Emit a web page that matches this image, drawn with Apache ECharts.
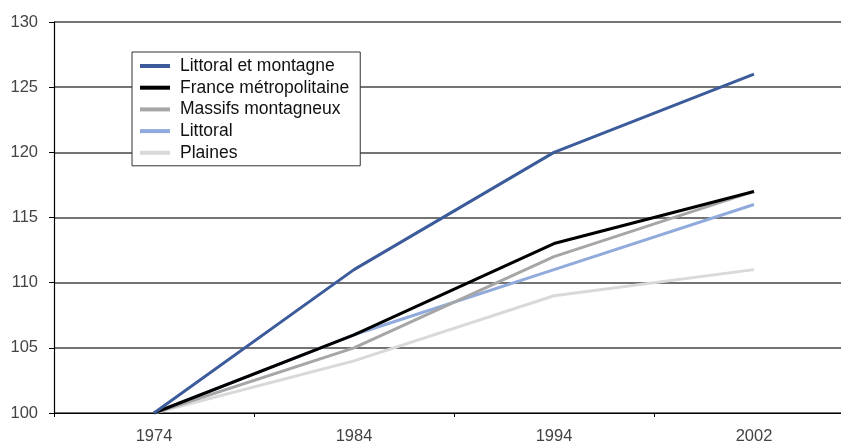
<!DOCTYPE html>
<html><head><meta charset="utf-8">
<script src="https://cdn.jsdelivr.net/npm/echarts@6/dist/echarts.min.js"></script>
<style>html,body{margin:0;padding:0;background:#fff}#c{width:841px;height:444px}</style>
</head><body><div id="c"></div>
<script>
const years = ['1974', '1984', '1994', '2002'];
const littoralMontagne = [100, 111, 120, 126];
const franceMetro = [100, 106, 113, 117];
const massifs = [100, 105, 112, 117];
const littoral = [100, 106, 111, 116];
const plaines = [100, 104, 109, 111];
const names = ['Littoral et montagne', 'France métropolitaine', 'Massifs montagneux', 'Littoral', 'Plaines'];
const colors = ['#3B5B9A', '#000000', '#A6A6A6', '#8FAADB', '#D9D9D9'];
const datas = [littoralMontagne, franceMetro, massifs, littoral, plaines];
const order = [4, 3, 2, 1, 0];
const chart = echarts.init(document.getElementById('c'));
const font = 'Liberation Sans';
chart.setOption({
  animation: false,
  grid: { left: 54, top: 22, width: 800, height: 391, containLabel: false, outerBoundsMode: 'none' },
  legend: {
    data: names,
    orient: 'vertical', left: 132, top: 52,
    backgroundColor: '#fff', borderColor: '#333', borderWidth: 1,
    padding: [4, 11, 3, 8],
    itemWidth: 30, itemHeight: 4, itemGap: 1.7, icon: 'rect',
    textStyle: { fontFamily: font, fontSize: 17.5, color: '#111', lineHeight: 20, padding: [0, 0, 0, 5] }
  },
  xAxis: {
    type: 'category', data: years, boundaryGap: true,
    axisLine: { lineStyle: { color: '#000', width: 1.2 } },
    axisTick: { show: true, alignWithLabel: false, length: 4, lineStyle: { color: '#000' } },
    axisLabel: { fontFamily: font, fontSize: 16.5, color: '#444', margin: 15 }
  },
  yAxis: {
    type: 'value', min: 100, max: 130, interval: 5,
    axisLine: { show: true, lineStyle: { color: '#000', width: 1.2 } },
    axisTick: { show: true, length: 5, lineStyle: { color: '#000' } },
    axisLabel: { fontFamily: font, fontSize: 16.5, color: '#444', margin: 16 },
    splitLine: { lineStyle: { color: '#444', width: 1.5 } }
  },
  series: order.map(i => ({
    name: names[i], type: 'line', data: datas[i], symbol: 'none',
    lineStyle: { color: colors[i], width: 3 }, itemStyle: { color: colors[i] }, z: 3 + (4 - i)
  }))
});
</script></body></html>
